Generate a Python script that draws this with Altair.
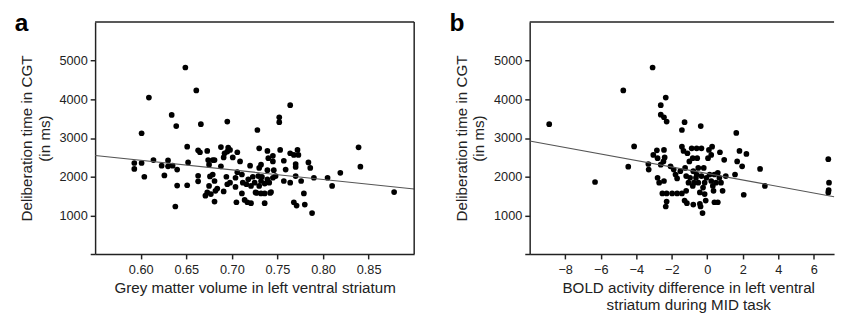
import altair as alt
import pandas as pd

# ---- Panel a: grey matter volume vs deliberation time ----
a_x = [0.649, 0.661, 0.609, 0.634, 0.639, 0.666, 0.695, 0.601, 0.728, 0.764,
       0.752, 0.752, 0.839, 0.841, 0.878, 0.788, 0.638, 0.593, 0.593, 0.601,
       0.604, 0.614, 0.623, 0.626, 0.630, 0.630, 0.635, 0.640, 0.640, 0.651,
       0.652, 0.651, 0.663, 0.663, 0.665, 0.663, 0.673, 0.674, 0.675, 0.679,
       0.681, 0.676, 0.679, 0.681, 0.675, 0.673, 0.671, 0.677, 0.682, 0.684,
       0.681, 0.688, 0.692, 0.691, 0.695, 0.696, 0.698, 0.701, 0.688, 0.694,
       0.695, 0.698, 0.691, 0.704, 0.706, 0.709, 0.706, 0.704, 0.705, 0.711,
       0.712, 0.711, 0.714, 0.717, 0.720, 0.721, 0.723, 0.725, 0.726, 0.730,
       0.730, 0.732, 0.732, 0.732, 0.736, 0.736, 0.739, 0.740, 0.739, 0.739,
       0.741, 0.742, 0.745, 0.745, 0.746, 0.748, 0.745, 0.753, 0.757, 0.759,
       0.757, 0.764, 0.764, 0.768, 0.770, 0.770, 0.772, 0.773, 0.770, 0.768,
       0.771, 0.776, 0.779, 0.780, 0.784, 0.786, 0.790, 0.805, 0.810, 0.819,
       0.716, 0.718, 0.721, 0.729, 0.733, 0.736, 0.730, 0.743, 0.727]
a_y = [4824, 4232, 4046, 3597, 3308, 3359, 3427, 3124, 3208, 3851,
       3538, 3411, 2759, 2260, 1601, 1060, 1229, 2354, 2202, 2354,
       1998, 2430, 2286, 2032, 2421, 2269, 2286, 2184, 1770, 2776,
       2370, 1779, 1880, 2683, 2632, 2024, 2666, 2430, 2311, 2430,
       2430, 2007, 2057, 1888, 1762, 1593, 1508, 1550, 1635, 1694,
       1356, 2767, 2606, 2497, 2649, 2750, 2691, 2497, 2269, 1998,
       1804, 1846, 1618, 1973, 2117, 2396, 2632, 1736, 1339, 2057,
       1846, 1567, 1398, 1339, 2286, 1314, 1998, 1846, 1593, 2734,
       2227, 2311, 1888, 1567, 1314, 1567, 2666, 2480, 2168, 1931,
       1846, 1580, 2539, 2396, 2168, 2015, 1973, 2691, 2412, 2184,
       1888, 1846, 2606, 2564, 2327, 2252, 2691, 2564, 2015, 1339,
       1254, 1888, 1567, 1280, 2370, 2227, 1973, 1973, 1762, 2100,
       1804, 1931, 1762, 2015, 1998, 1821, 1762, 1601, 1580]
a_fit_x = [0.55, 0.90]
a_fit_y = [2550, 1680]

# ---- Panel b: BOLD activity difference vs deliberation time ----
b_x = [-8.90, -6.32, -4.73, -4.12, -4.45, -3.08, -2.34, -2.62, -2.62, -2.44,
       -2.29, -1.28, -1.43, -0.37, 1.63, -3.32, -3.30, -3.04, -2.84, -2.80,
       -2.44, -2.62, -2.47, -2.40, -2.80, -2.71, -2.44, -2.53, -2.29, -1.98,
       -1.70, -1.43, -2.29, -2.34, -2.07, -1.89, -1.79, -1.70, -1.52, -1.43,
       -1.34, -1.25, -1.19, -1.12, -1.01, -1.06, -1.28, -1.15, -0.88, -0.82,
       -0.79, -0.75, -0.79, -0.60, -0.57, -0.51, -0.60, -0.51, -0.42, -0.42,
       -0.38, -0.27, -0.33, -0.20, -0.15, -0.15, -0.09, 0.04, 0.09, 0.22,
       0.27, 0.13, 0.22, 0.31, 0.35, 0.40, 0.59, 0.68, 0.77, 0.59,
       0.71, 0.86, 0.95, 1.04, 1.56, 1.68, 1.81, 1.96, 2.20, 2.05,
       2.97, 3.24, 6.81, 6.85, 6.81, 6.83, -0.97, -0.64, -0.33, -0.82,
       -1.19, -0.24, -0.05, 0.40, 0.49]
b_y = [3359, 1863, 4232, 2784, 2260, 4824, 4046, 3851, 3605, 3538,
       3427, 3411, 3208, 3308, 3132, 2328, 2184, 2564, 2683, 2480,
       2691, 2311, 2396, 2497, 1973, 1846, 1888, 1567, 1567, 1567,
       1567, 1567, 1356, 1229, 2269, 2184, 2057, 1956, 2142, 2776,
       2666, 2227, 2015, 2606, 2396, 1846, 1381, 1314, 2734, 2480,
       2142, 1846, 1280, 2734, 2480, 2227, 2057, 1846, 1593, 1297,
       1229, 1060, 2734, 2227, 1846, 1550, 1381, 2480, 2691, 2564,
       2776, 2057, 1888, 1762, 1635, 1339, 2100, 1973, 1846, 1339,
       2632, 1635, 2437, 2015, 2057, 2396, 2666, 2269, 2590, 1533,
       2202, 1762, 2454, 1846, 1593, 1650, 1973, 1973, 2015, 1762,
       1635, 1719, 1973, 2057, 1846]
b_fit_x = [-10, 7.135]
b_fit_y = [2921, 1483]

y_ticks = [0, 1000, 2000, 3000, 4000, 5000]
a_ticks = [0.60, 0.65, 0.70, 0.75, 0.80, 0.85]
b_ticks = [-8, -6, -4, -2, 0, 2, 4, 6]

FONT = "Liberation Sans"
H = 237
WA = 326
WB = 311

y_title = ["Deliberation time in CGT", "(in ms)"]


def yenc():
    return alt.Y("y:Q", scale=alt.Scale(domain=[0, 6000], nice=False),
                 axis=alt.Axis(values=y_ticks, title=y_title, format="d",
                               labelExpr="datum.value == 0 ? '' : datum.label"))


def panel(xs, ys, fx, fy, dom, ticks, fmt, xtitle, letter, width, frame, title_x):
    pts = pd.DataFrame({"x": xs, "y": ys})
    fit = pd.DataFrame({"x": fx, "y": fy})
    xscale = alt.Scale(domain=dom, nice=False, zero=False)
    xaxis = alt.Axis(values=ticks, format=fmt, title=xtitle, titleX=title_x)
    points = alt.Chart(pts).mark_circle(size=34, color="black", opacity=1).encode(
        x=alt.X("x:Q", scale=xscale, axis=xaxis), y=yenc())
    line = alt.Chart(fit).mark_line(color="#555555", strokeWidth=1.1).encode(
        x=alt.X("x:Q", scale=xscale), y=alt.Y("y:Q", scale=alt.Scale(domain=[0, 6000], nice=False)))
    lab = alt.Chart(pd.DataFrame({"t": [letter]})).mark_text(
        fontSize=25, fontWeight="bold", font=FONT, align="left", baseline="alphabetic",
        color="black").encode(text="t:N", x=alt.value(-82), y=alt.value(9))
    top = alt.Chart(pd.DataFrame({"t": [letter]})).mark_rule(
        color="#222222", strokeWidth=1.5).encode(
        x=alt.value(0), x2=alt.value(width), y=alt.value(0))
    layers = [points, line, lab, top]
    if frame:
        right = alt.Chart(pd.DataFrame({"t": [letter]})).mark_rule(
            color="#222222", strokeWidth=1.5).encode(
            x=alt.value(width), y=alt.value(0), y2=alt.value(H))
        layers.append(right)
    return alt.layer(*layers).properties(width=width, height=H)


pa = panel(a_x, a_y, a_fit_x, a_fit_y, [0.55, 0.90], a_ticks, ".2f",
           "Grey matter volume in left ventral striatum", "a", WA, True, WA / 2)
pb = panel(b_x, b_y, b_fit_x, b_fit_y, [-10, 7.135], b_ticks, "d",
           ["BOLD activity difference in left ventral", "striatum during MID task"],
           "b", WB, False, 162)

chart = alt.hconcat(pa, pb, spacing=33).properties(
    padding={"top": 0, "left": 7, "right": 0, "bottom": 0}
).configure_view(stroke=None).configure_axis(
    grid=False, domainColor="#222222", domainWidth=1.5, tickColor="#222222",
    tickWidth=1.5, tickSize=5, labelFont=FONT, labelFontSize=13, labelColor="#222222",
    titleFont=FONT, titleFontSize=15.5, titleFontWeight="normal",
    titleColor="#222222", titleLineHeight=18
).configure_axisX(
    labelPadding=5, titlePadding=4
).configure_axisY(
    labelPadding=3, titlePadding=7
)

chart.save("out.html", embed_options={"renderer": "svg", "actions": False})
